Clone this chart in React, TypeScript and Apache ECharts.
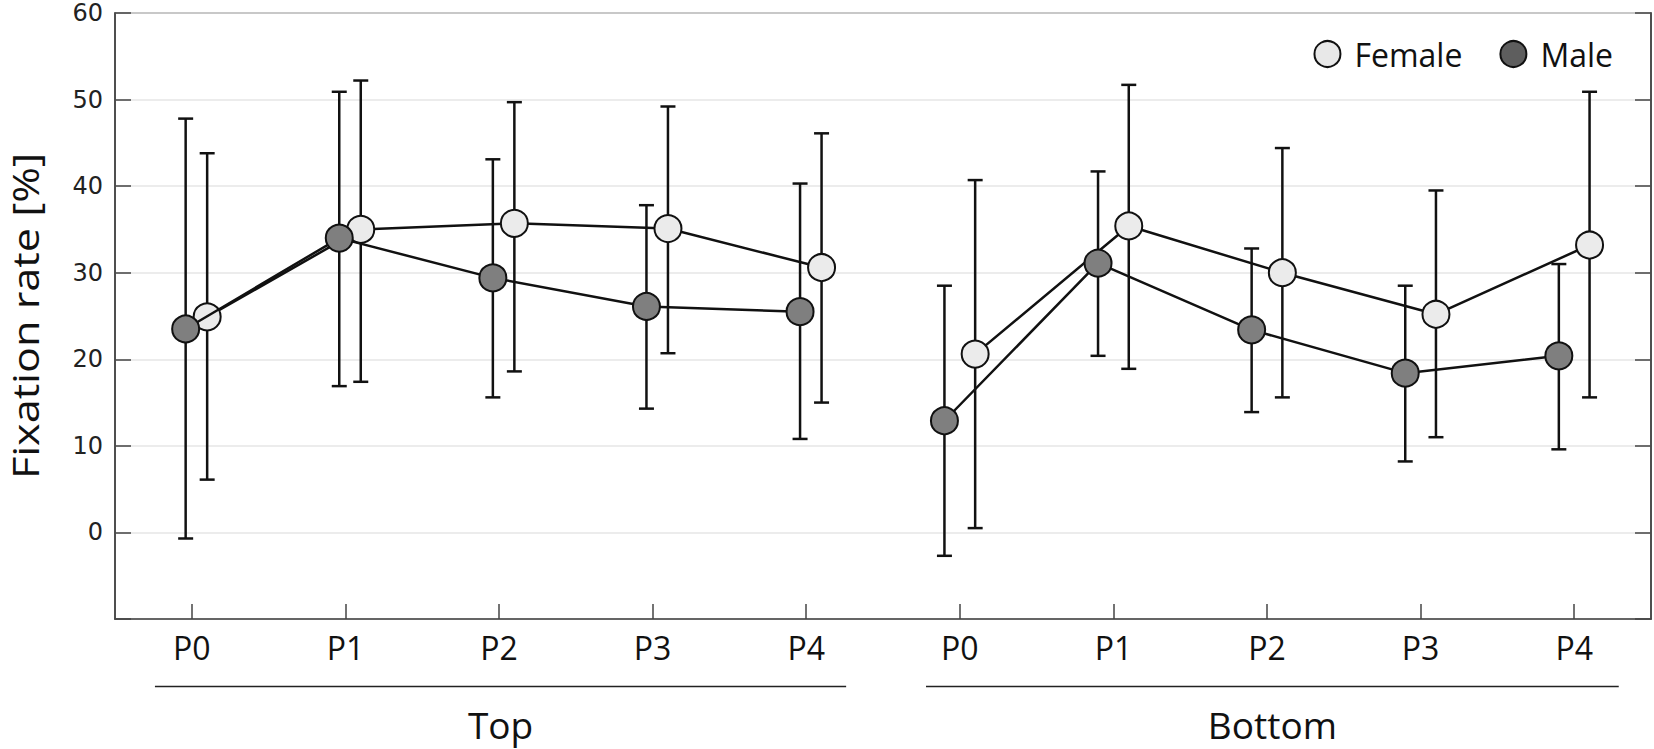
import React, { useEffect, useRef } from "react";
import * as echarts from "echarts";

const categories = ["P0", "P1", "P2", "P3", "P4"];
const groups = ["Top", "Bottom"];
const tickLabels = [...categories, ...categories];
const yTicks = [-10, 0, 10, 20, 30, 40, 50, 60];
const yTitle = "Fixation rate [%]";

const femaleMean = [24.9, 35.0, 35.7, 35.1, 30.6, 20.6, 35.4, 30.0, 25.2, 33.2];
const femaleLow = [6.1, 17.4, 18.6, 20.7, 15.0, 0.5, 18.9, 15.6, 11.0, 15.6];
const femaleHigh = [43.8, 52.2, 49.7, 49.2, 46.1, 40.7, 51.7, 44.4, 39.5, 50.9];

const maleMean = [23.5, 34.0, 29.4, 26.1, 25.5, 12.9, 31.1, 23.4, 18.4, 20.4];
const maleLow = [-0.7, 16.9, 15.6, 14.3, 10.8, -2.7, 20.4, 13.9, 8.2, 9.6];
const maleHigh = [47.8, 50.9, 43.1, 37.8, 40.3, 28.5, 41.7, 32.8, 28.5, 31.0];

// horizontal dodge (in category units) of each series around its tick
const femaleDodge = [0.1, 0.1];
const maleDodge = [-0.04, -0.1];
// span of each group's underline (in category units)
const groupSpans = [
  [-0.24, 4.26],
  [4.78, 9.29],
];

const FONT = "'Open Sans', 'Noto Sans', sans-serif";

function pts(mean: number[], dodge: number[], g: number) {
  const out: number[][] = [];
  for (let i = 0; i < categories.length; i++) {
    const idx = g * categories.length + i;
    out.push([idx + dodge[g], mean[idx]]);
  }
  return out;
}

function bars(low: number[], high: number[], dodge: number[]) {
  const out: number[][] = [];
  for (let idx = 0; idx < low.length; idx++) {
    const g = Math.floor(idx / categories.length);
    out.push([idx + dodge[g], low[idx], high[idx]]);
  }
  return out;
}

const errorRender = (params: any, api: any) => {
  const x = api.value(0);
  const lo = api.coord([x, api.value(1)]);
  const hi = api.coord([x, api.value(2)]);
  const w = 7.5;
  const st = { stroke: "#111", lineWidth: 2.5 };
  return {
    type: "group",
    children: [
      { type: "line", shape: { x1: hi[0], y1: hi[1], x2: lo[0], y2: lo[1] }, style: st },
      { type: "line", shape: { x1: hi[0] - w, y1: hi[1], x2: hi[0] + w, y2: hi[1] }, style: st },
      { type: "line", shape: { x1: lo[0] - w, y1: lo[1], x2: lo[0] + w, y2: lo[1] }, style: st },
    ],
  };
};

export default function App() {
  const ref = useRef<HTMLDivElement>(null);
  useEffect(() => {
    document.body.style.margin = "0";
    const chart = echarts.init(ref.current!, null, { renderer: "svg" });
    const lineSeries = (name: string, data: number[][], color: string, z: number) => ({
      type: "line",
      name,
      xAxisIndex: 1,
      yAxisIndex: 0,
      data,
      z,
      symbol: "circle",
      symbolSize: 27,
      itemStyle: { color, borderColor: "#111", borderWidth: 2 },
      lineStyle: { color: "#111", width: 2.5 },
      emphasis: { disabled: true },
    });
    const errSeries = (data: number[][]) => ({
      type: "custom",
      xAxisIndex: 1,
      yAxisIndex: 0,
      renderItem: errorRender,
      encode: { x: 0, y: [1, 2] },
      data,
      z: 1,
      silent: true,
    });
    const tickStyle = { color: "#444", width: 1.5 };
    chart.setOption({
      animation: false,
      grid: {
        left: 115,
        right: 3,
        top: 13,
        bottom: 130,
        containLabel: false,
        outerBoundsMode: "none",
        show: true,
        borderColor: "#444",
        borderWidth: 1.5,
        backgroundColor: "transparent",
      },
      legend: {
        right: 36,
        top: 33,
        itemWidth: 26,
        itemHeight: 26,
        itemGap: 37,
        icon: "circle",
        textStyle: { fontSize: 32, fontFamily: FONT, color: "#111", padding: [0, 0, 0, 9] },
        data: [
          { name: "Female", itemStyle: { color: "#e8e8e8", borderColor: "#111", borderWidth: 2 } },
          { name: "Male", itemStyle: { color: "#5e5e5e", borderColor: "#111", borderWidth: 2 } },
        ],
      },
      xAxis: [
        {
          type: "category",
          data: tickLabels,
          position: "bottom",
          axisLine: { show: true, onZero: false, lineStyle: { color: "#444", width: 1.5 } },
          axisTick: { show: true, alignWithLabel: true, inside: true, length: 15, lineStyle: tickStyle },
          axisLabel: { fontSize: 32, fontFamily: FONT, color: "#111", margin: 12 },
          splitLine: { show: false },
        },
        {
          type: "value",
          min: -0.5,
          max: 9.5,
          show: false,
          axisLine: { show: false, onZero: false },
          splitLine: { show: false },
        },
      ],
      yAxis: [
        {
          type: "value",
          min: yTicks[0],
          max: yTicks[yTicks.length - 1],
          interval: 10,
          axisLine: { show: true, onZero: false, lineStyle: { color: "#444", width: 1.5 } },
          axisTick: { show: true, inside: true, length: 16, lineStyle: tickStyle },
          axisLabel: {
            fontSize: 24,
            fontFamily: "'DejaVu Sans', sans-serif",
            color: "#222",
            margin: 12,
            formatter: (v: number) => (v === yTicks[0] ? "" : String(v)),
          },
          splitLine: { show: true, lineStyle: { color: "#e6e6e6", width: 1.5 } },
        },
        {
          type: "value",
          position: "right",
          min: yTicks[0],
          max: yTicks[yTicks.length - 1],
          interval: 10,
          axisLine: { show: true, onZero: false, lineStyle: { color: "#444", width: 1.5 } },
          axisTick: { show: true, inside: true, length: 16, lineStyle: tickStyle },
          axisLabel: { show: false },
          splitLine: { show: false },
        },
      ],
      series: [
        errSeries(bars(femaleLow, femaleHigh, femaleDodge)),
        errSeries(bars(maleLow, maleHigh, maleDodge)),
        lineSeries("Female", pts(femaleMean, femaleDodge, 0), "#ebebeb", 3),
        lineSeries("Female", pts(femaleMean, femaleDodge, 1), "#ebebeb", 3),
        lineSeries("Male", pts(maleMean, maleDodge, 0), "#7f7f7f", 4),
        lineSeries("Male", pts(maleMean, maleDodge, 1), "#7f7f7f", 4),
      ],
    });
    const lineY = 686.5;
    const graphics: any[] = [];
    groups.forEach((g, i) => {
      const a = chart.convertToPixel({ xAxisIndex: 1 }, groupSpans[i][0]) as number;
      const b = chart.convertToPixel({ xAxisIndex: 1 }, groupSpans[i][1]) as number;
      graphics.push({
        type: "line",
        shape: { x1: a, y1: lineY, x2: b, y2: lineY },
        style: { stroke: "#222", lineWidth: 1.5 },
      });
      graphics.push({
        type: "text",
        x: (a + b) / 2,
        y: 724,
        style: {
          text: g,
          fontSize: 37,
          fontFamily: FONT,
          fill: "#111",
          align: "center",
          verticalAlign: "middle",
        },
      });
    });
    const yMid = chart.convertToPixel({ yAxisIndex: 0 }, (yTicks[0] + yTicks[yTicks.length - 1]) / 2) as number;
    graphics.push({
      type: "text",
      x: 25,
      y: yMid,
      rotation: Math.PI / 2,
      scaleX: 1.08,
      scaleY: 0.9,
      style: {
        text: yTitle,
        fontSize: 40,
        fontFamily: FONT,
        fill: "#111",
        align: "center",
        verticalAlign: "middle",
      },
    });
    chart.setOption({ graphic: graphics });
    return () => chart.dispose();
  }, []);
  return <div ref={ref} style={{ width: 1654, height: 749 }} />;
}
